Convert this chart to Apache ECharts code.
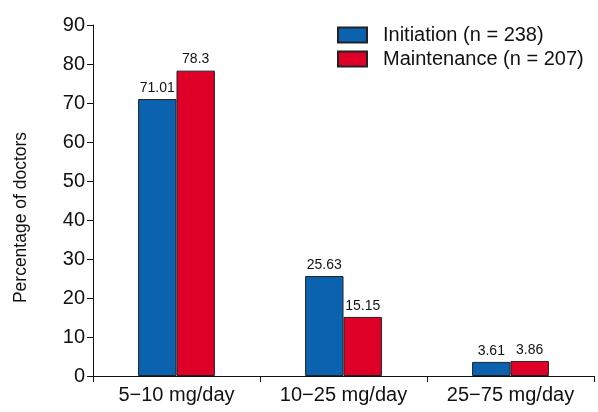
<!DOCTYPE html>
<html>
<head>
<meta charset="utf-8">
<script src="https://cdn.jsdelivr.net/npm/echarts@6/dist/echarts.min.js"></script>
<style>
html,body{margin:0;padding:0;background:#fff;}
#c{width:598px;height:412px;}
</style>
</head>
<body>
<div id="c"></div>
<script>
const categories = ['5\u221210 mg/day', '10\u221225 mg/day', '25\u221275 mg/day'];
const initiation = [71.01, 25.63, 3.61];
const maintenance = [78.3, 15.15, 3.86];
const initiationName = 'Initiation (n = 238)';
const maintenanceName = 'Maintenance (n = 207)';
const yTicks = { min: 0, max: 90, interval: 10 };

const font = '"Liberation Sans", Arial, Helvetica, sans-serif';
const chart = echarts.init(document.getElementById('c'));
const labelOpt = {
  show: true, position: 'top', distance: 4,
  color: '#111', fontSize: 14, fontFamily: font,
  formatter: p => String(p.value)
};
chart.setOption({
  animation: false,
  backgroundColor: '#fff',
  grid: { left: 93, right: 4, top: 25, bottom: 36, containLabel: false },
  legend: {
    orient: 'vertical', left: 337, top: 25, padding: 0,
    itemWidth: 29, itemHeight: 15, itemGap: 4,
    icon: 'rect',
    textStyle: { fontSize: 20, fontFamily: font, color: '#111', padding: [0,0,0,11] },
    data: [initiationName, maintenanceName]
  },
  xAxis: {
    type: 'category', data: categories,
    axisLine: { lineStyle: { color: '#111', width: 1 } },
    axisTick: { show: true, length: 6, inside: false, alignWithLabel: false, lineStyle: { color: '#111' } },
    axisLabel: { fontSize: 20, fontFamily: font, color: '#111', margin: 9 }
  },
  yAxis: {
    type: 'value', min: yTicks.min, max: yTicks.max, interval: yTicks.interval,
    name: 'Percentage of doctors', nameLocation: 'middle', nameGap: 63,
    nameTextStyle: { fontSize: 17.5, fontFamily: font, color: '#111', padding: [0, 34, 0, 0] },
    axisLine: { show: true, lineStyle: { color: '#111', width: 1 } },
    axisTick: { show: true, length: 6, lineStyle: { color: '#111' } },
    axisLabel: { fontSize: 20, fontFamily: font, color: '#111', margin: 8 },
    splitLine: { show: false }
  },
  series: [
    {
      name: initiationName, type: 'bar', data: initiation,
      barGap: '0%', barCategoryGap: '54%',
      itemStyle: { color: '#0B62AE', borderColor: '#222', borderWidth: 1 },
      label: labelOpt
    },
    {
      name: maintenanceName, type: 'bar', data: maintenance,
      itemStyle: { color: '#DE0027', borderColor: '#222', borderWidth: 1 },
      label: labelOpt
    }
  ]
});
</script>
</body>
</html>
